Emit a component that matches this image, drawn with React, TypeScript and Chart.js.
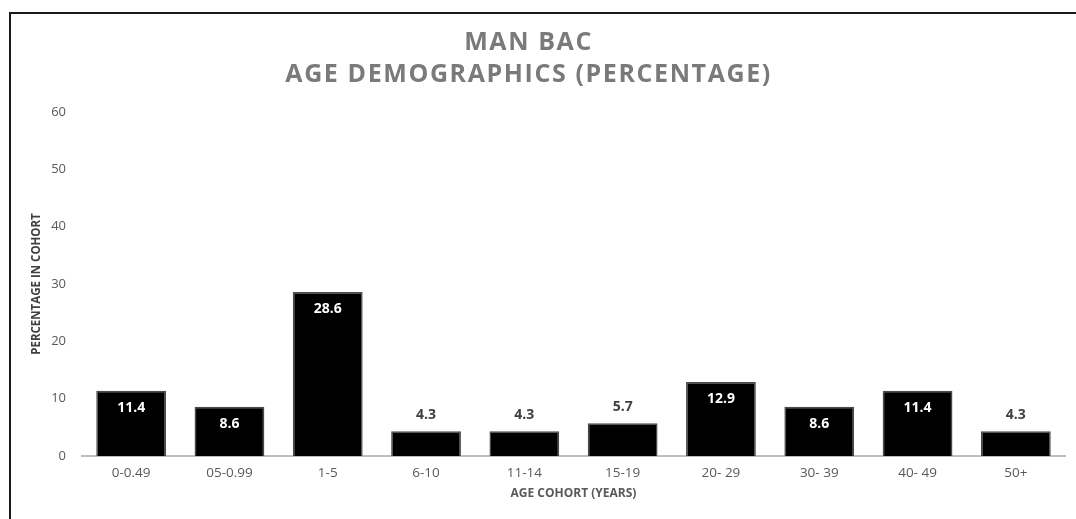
import React, { useEffect, useRef } from "react";
import { Chart, registerables } from "chart.js";

Chart.register(...registerables);

const cohorts = ["0-0.49", "05-0.99", "1-5", "6-10", "11-14", "15-19", "20- 29", "30- 39", "40- 49", "50+"];
const percentages = [11.4, 8.6, 28.6, 4.3, 4.3, 5.7, 12.9, 8.6, 11.4, 4.3];
const titleLines = ["MAN BAC", "AGE DEMOGRAPHICS (PERCENTAGE)"];
const yTicks = [0, 10, 20, 30, 40, 50, 60];

const FONT = "'Open Sans', 'DejaVu Sans', sans-serif";

// Two-line heading, drawn slightly left of the canvas centre
const headingPlugin = {
  id: "heading",
  afterDraw(chart: any) {
    const { ctx } = chart;
    ctx.save();
    ctx.fillStyle = "#7a7a7a";
    ctx.font = `bold 25px ${FONT}`;
    ctx.textAlign = "center";
    ctx.textBaseline = "middle";
    (ctx as any).letterSpacing = "1.6px";
    const cx = chart.width * 0.486;
    ctx.fillText(titleLines[0], cx, 29);
    ctx.fillText(titleLines[1], cx, 61);
    ctx.restore();
  },
};

// Value labels: white inside tall bars, dark above short ones
const valueLabelPlugin = {
  id: "valueLabels",
  afterDatasetsDraw(chart: any) {
    const { ctx } = chart;
    const meta = chart.getDatasetMeta(0);
    ctx.save();
    ctx.font = `bold 14px ${FONT}`;
    ctx.textAlign = "center";
    ctx.textBaseline = "middle";
    meta.data.forEach((bar: any, i: number) => {
      const v = percentages[i];
      if (v >= 8) {
        ctx.fillStyle = "#ffffff";
        ctx.fillText(v.toFixed(1), bar.x, bar.y + 17);
      } else {
        ctx.fillStyle = "#404040";
        ctx.fillText(v.toFixed(1), bar.x, bar.y - 16);
      }
    });
    ctx.restore();
  },
};

export default function App() {
  const canvasRef = useRef<HTMLCanvasElement | null>(null);

  useEffect(() => {
    if (!canvasRef.current) return;
    const chart = new Chart(canvasRef.current, {
      type: "bar",
      data: {
        labels: cohorts,
        datasets: [
          {
            data: percentages,
            backgroundColor: "#000000",
            borderColor: "#4a4a4a",
            borderWidth: 1.5,
            categoryPercentage: 1,
            barPercentage: 0.71,
          },
        ],
      },
      options: {
        animation: false,
        responsive: false,
        maintainAspectRatio: false,
        layout: { padding: { top: 98, right: 11, left: 0, bottom: 0 } },
        plugins: {
          legend: { display: false },
          title: { display: false },
          tooltip: { enabled: false },
        },
        scales: {
          x: {
            grid: { display: false, drawTicks: false },
            border: { display: true, color: "#bfbfbf", width: 2 },
            ticks: { color: "#595959", font: { family: FONT, size: 13.5 }, padding: 9 },
            title: {
              display: true,
              text: "AGE COHORT (YEARS)",
              color: "#595959",
              font: { family: FONT, size: 12, weight: "bold" },
              padding: { top: 0, bottom: 18 },
            },
            afterFit(scale: any) {
              scale.height = 63;
            },
          },
          y: {
            min: 0,
            max: 60,
            afterBuildTicks(scale: any) {
              scale.ticks = yTicks.map((v) => ({ value: v }));
            },
            grid: { display: false, drawTicks: false },
            border: { display: false },
            ticks: { color: "#595959", font: { family: FONT, size: 13 }, padding: 16 },
            title: {
              display: true,
              text: "PERCENTAGE IN COHORT",
              color: "#404040",
              font: { family: FONT, size: 11.5, weight: "bold" },
              padding: { top: 19, bottom: 0 },
            },
            afterFit(scale: any) {
              scale.width = 71;
            },
          },
        },
      },
      plugins: [headingPlugin, valueLabelPlugin],
    });
    return () => chart.destroy();
  }, []);

  return (
    <div
      style={{
        position: "absolute",
        left: 9,
        top: 12,
        width: 1100,
        height: 540,
        border: "2px solid #1a1a1a",
        boxSizing: "border-box",
        overflow: "hidden",
        background: "#ffffff",
      }}
    >
      <canvas ref={canvasRef} width={1065} height={505} style={{ display: "block" }} />
    </div>
  );
}
